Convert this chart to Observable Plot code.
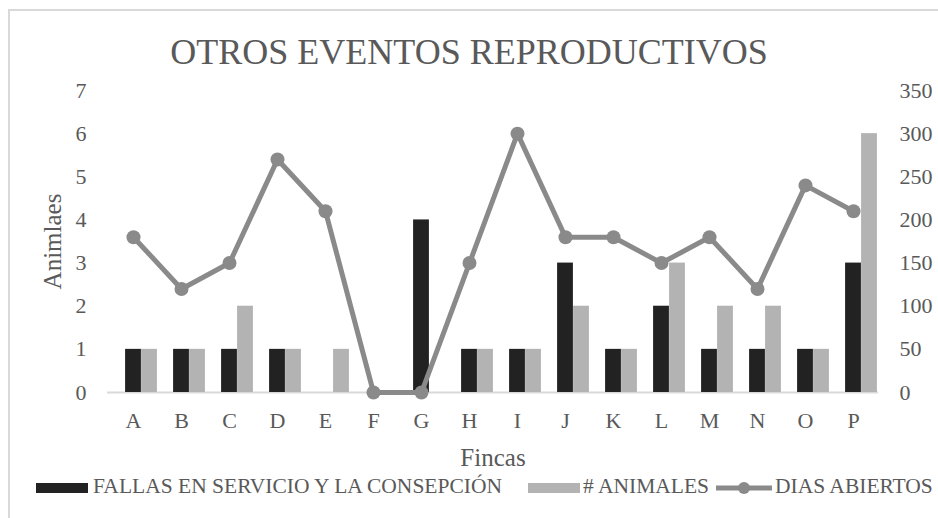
<!DOCTYPE html>
<html>
<head>
<meta charset="utf-8">
<script src="https://cdn.jsdelivr.net/npm/d3@7"></script>
<script src="https://cdn.jsdelivr.net/npm/@observablehq/plot@0.6"></script>
<style>
  html, body { margin: 0; padding: 0; background: #fff; }
  #wrap { position: relative; width: 938px; height: 518px; overflow: hidden; font-family: "Liberation Serif", "Times New Roman", serif; color: #595959; }
  #frame { position: absolute; left: 8px; top: 9px; width: 960px; height: 560px; border-left: 2px solid #d9d9d9; border-top: 2px solid #d9d9d9; box-sizing: border-box; }
  #chart { position: absolute; left: 0; top: 0; }
  #title { position: absolute; left: 0; width: 938px; top: 34px; text-align: center; font-size: 36px; line-height: 36px; white-space: nowrap; }
  .leg { position: absolute; font-size: 21.5px; line-height: 21.5px; white-space: nowrap; top: 476px; }
  .sw { position: absolute; }
</style>
</head>
<body>
<div id="wrap">
  <div id="frame"></div>
  <div id="chart"></div>
  <div id="title">OTROS EVENTOS REPRODUCTIVOS</div>
  <div id="legend"></div>
</div>
<script>
const categories = ["A","B","C","D","E","F","G","H","I","J","K","L","M","N","O","P"];
const fallas   = [1,1,1,1,0,0,4,1,1,3,1,2,1,1,1,3];
const animales = [1,1,2,1,1,0,0,1,1,2,1,3,2,2,1,6];
const dias     = [180,120,150,270,210,0,0,150,300,180,180,150,180,120,240,210];
const leftTicks = [0,1,2,3,4,5,6,7];
const rightTickLabels = [0,50,100,150,200,250,300,350];
const seriesNames = ["FALLAS EN SERVICIO Y LA CONSEPCIÓN", "# ANIMALES", "DIAS ABIERTOS"];
const colors = ["#222222", "#b3b3b3", "#8a8a8a"];

const W = 938, H = 518, mL = 107, mR = 60, mT = 90, mB = 126;
const bw = (W - mL - mR) / categories.length;
const barW = 16;

const rows = categories.map((c, i) => ({cat: c, fallas: fallas[i], animales: animales[i], dias: dias[i], diasScaled: dias[i] / 50}));

const chart = Plot.plot({
  width: W, height: H,
  marginLeft: mL, marginRight: mR, marginTop: mT, marginBottom: mB,
  style: {fontFamily: '"Liberation Serif", "Times New Roman", serif', fontSize: "22px", color: "#595959", background: "transparent", overflow: "visible"},
  x: {type: "band", domain: categories, padding: 0, axis: null},
  y: {domain: [0, 7], axis: null},
  marks: [
    Plot.ruleY([0], {stroke: "#d9d9d9", strokeWidth: 2}),
    Plot.barY(rows, {x: "cat", y: "fallas", fill: colors[0], insetLeft: bw/2 - barW/2, insetRight: bw/2 - barW/2}),
    Plot.barY(rows, {x: "cat", y: "animales", fill: colors[1], insetLeft: bw/2 + barW/2, insetRight: bw/2 - barW*1.5}),
    Plot.line(rows, {x: "cat", y: "diasScaled", stroke: colors[2], strokeWidth: 5, strokeLinejoin: "round"}),
    Plot.dot(rows, {x: "cat", y: "diasScaled", r: 7, fill: colors[2], stroke: "none"}),
    Plot.axisX({anchor: "bottom", tickSize: 0, tickPadding: 20, fontSize: 22, label: "Fincas", labelAnchor: "center", labelOffset: 73, labelArrow: "none"}),
    Plot.axisY(leftTicks, {anchor: "left", tickSize: 0, tickPadding: 21, label: "Animlaes", labelAnchor: "center", labelOffset: 64, labelArrow: "none"}),
    Plot.axisY(leftTicks, {anchor: "right", tickSize: 0, tickPadding: 21, tickFormat: (d, i) => rightTickLabels[i], label: null})
  ]
});
chart.querySelectorAll("g[aria-label='x-axis label'] text, g[aria-label='y-axis label'] text").forEach(t => t.setAttribute("font-size", "25px"));
document.getElementById("chart").appendChild(chart);

const legend = document.getElementById("legend");
const items = [
  {sx: 36, tx: 93, kind: "bar", color: colors[0], name: seriesNames[0]},
  {sx: 528, tx: 583, kind: "bar", color: colors[1], name: seriesNames[1]},
  {sx: 716, tx: 775, kind: "line", color: colors[2], name: seriesNames[2]}
];
items.forEach(it => {
  const s = document.createElementNS("http://www.w3.org/2000/svg", "svg");
  s.setAttribute("class", "sw");
  s.setAttribute("width", 56); s.setAttribute("height", 16);
  s.style.left = it.sx + "px"; s.style.top = "480px";
  if (it.kind === "bar") {
    s.innerHTML = `<rect x="0" y="3" width="52" height="10" fill="${it.color}"></rect>`;
  } else {
    s.innerHTML = `<line x1="0" x2="56" y1="8" y2="8" stroke="${it.color}" stroke-width="5"></line><circle cx="28" cy="8" r="6" fill="${it.color}"></circle>`;
  }
  legend.appendChild(s);
  const t = document.createElement("div");
  t.className = "leg"; t.style.left = it.tx + "px"; t.textContent = it.name;
  legend.appendChild(t);
});
</script>
</body>
</html>
